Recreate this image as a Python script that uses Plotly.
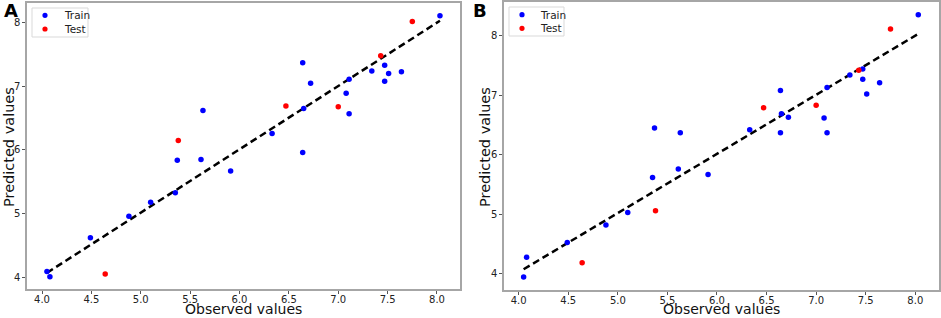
import plotly.graph_objects as go

# ---- data ----
train_obs = [4.05, 4.08, 4.49, 4.88, 5.10, 5.35, 5.37, 5.61, 5.63, 5.91, 6.33, 6.64,
             6.64, 6.65, 6.72, 7.08, 7.11, 7.11, 7.34, 7.47, 7.47, 7.51, 7.64, 8.03]
train_pred_A = [4.09, 4.01, 4.62, 4.96, 5.18, 5.33, 5.84, 5.85, 6.62, 5.67, 6.26, 7.37,
                5.96, 6.65, 7.05, 6.89, 6.57, 7.11, 7.24, 7.33, 7.08, 7.20, 7.23, 8.11]
train_pred_B = [3.95, 4.28, 4.53, 4.82, 5.03, 5.62, 6.45, 5.76, 6.37, 5.67, 6.42, 7.08,
                6.37, 6.69, 6.63, 6.62, 6.37, 7.13, 7.34, 7.44, 7.27, 7.02, 7.21, 8.35]
test_obs = [4.64, 5.38, 6.47, 7.00, 7.43, 7.75]
test_pred_A = [4.05, 6.15, 6.69, 6.68, 7.48, 8.02]
test_pred_B = [4.19, 5.06, 6.79, 6.83, 7.42, 8.11]
line_A_x = [4.05, 8.03]
line_A_y = [4.07, 8.03]
line_B_x = [4.05, 8.03]
line_B_y = [4.08, 8.03]
x_ticks = [4.0, 4.5, 5.0, 5.5, 6.0, 6.5, 7.0, 7.5, 8.0]
x_tick_labels = ["4.0", "4.5", "5.0", "5.5", "6.0", "6.5", "7.0", "7.5", "8.0"]
y_ticks = [4, 5, 6, 7, 8]
y_tick_labels = ["4", "5", "6", "7", "8"]
panel_labels = ["A", "B"]
series_names = ["Train", "Test"]
series_colors = ["#0000ff", "#ff0000"]

W, H = 941, 318
FONT = "DejaVu Sans"


def px(v):
    return v / W


def py(v):
    return 1 - v / H


fig = go.Figure()

panels = [
    dict(xa="x", ya="y", tp=train_pred_A, sp=test_pred_A, lx=line_A_x, ly=line_A_y),
    dict(xa="x2", ya="y2", tp=train_pred_B, sp=test_pred_B, lx=line_B_x, ly=line_B_y),
]
for p in panels:
    fig.add_trace(go.Scatter(x=p["lx"], y=p["ly"], mode="lines", xaxis=p["xa"], yaxis=p["ya"],
                             line=dict(color="black", width=2.5, dash="7px,4px"),
                             showlegend=False, hoverinfo="skip"))
    fig.add_trace(go.Scatter(x=train_obs, y=p["tp"], mode="markers", name=series_names[0],
                             xaxis=p["xa"], yaxis=p["ya"], showlegend=False,
                             marker=dict(color=series_colors[0], size=5.5)))
    fig.add_trace(go.Scatter(x=test_obs, y=p["sp"], mode="markers", name=series_names[1],
                             xaxis=p["xa"], yaxis=p["ya"], showlegend=False,
                             marker=dict(color=series_colors[1], size=5.5)))

axis_common = dict(showline=True, mirror=True, linecolor="#a6a6a6", linewidth=1.5,
                   showgrid=False, zeroline=False, ticks="outside", ticklen=3,
                   tickcolor="#555555", tickwidth=1, automargin=False,
                   tickfont=dict(family=FONT, size=10, color="#222222"))
xaxis_extra = dict(ticklabelstandoff=-3)

shapes = []
annotations = []

# legends (one per panel), panel letters and axis titles
legend_boxes = [(32, 8, 88, 37, 45, 62, [15.3, 29.0]), (509, 7, 564, 36, 522, 538, [14.7, 28.3])]
for (x0, y0, x1, y1, mx, tx, rows) in legend_boxes:
    shapes.append(dict(type="rect", xref="paper", yref="paper", x0=px(x0), x1=px(x1),
                       y0=py(y1), y1=py(y0), line=dict(color="#d9d9d9", width=1),
                       fillcolor="white", layer="above"))
    for name, col, ry in zip(series_names, series_colors, rows):
        shapes.append(dict(type="circle", xref="paper", yref="paper",
                           x0=px(mx - 2.6), x1=px(mx + 2.6), y0=py(ry + 2.6), y1=py(ry - 2.6),
                           fillcolor=col, line=dict(width=0), layer="above"))
        annotations.append(dict(text=name, x=px(tx), y=py(ry), xref="paper", yref="paper",
                                xanchor="left", yanchor="middle", showarrow=False,
                                font=dict(family=FONT, size=10.5, color="#222")))

letter_pos = [(11, 10.5), (480, 10.5)]
for lab, (lx, ly) in zip(panel_labels, letter_pos):
    annotations.append(dict(text="<b>%s</b>" % lab, x=px(lx), y=py(ly), xref="paper", yref="paper",
                            xanchor="center", yanchor="middle", showarrow=False, borderpad=0,
                            font=dict(family=FONT, size=18, color="black")))

xtitle_x = [243.5, 721]
ytitle_pos = [(9, 147), (485, 147)]
for ax in xtitle_x:
    annotations.append(dict(text="Observed values", x=px(ax), y=0, xref="paper", yref="paper",
                            xanchor="center", yanchor="bottom", showarrow=False, borderpad=0,
                            font=dict(family=FONT, size=14, color="#111")))
for (ax, ay) in ytitle_pos:
    annotations.append(dict(text="Predicted values", x=px(ax), y=py(ay), xref="paper", yref="paper",
                            xanchor="center", yanchor="middle", showarrow=False, textangle=-90,
                            font=dict(family=FONT, size=14.5, color="#111")))

fig.update_layout(
    width=W, height=H, margin=dict(l=0, r=0, t=0, b=0),
    paper_bgcolor="white", plot_bgcolor="white",
    font=dict(family=FONT),
    showlegend=False,
    xaxis=dict(domain=[px(27), px(460)], range=[3.848, 8.233], tickvals=x_ticks,
               ticktext=x_tick_labels, anchor="y", **axis_common, **xaxis_extra),
    yaxis=dict(domain=[py(289), py(3)], range=[3.816, 8.309], tickvals=y_ticks,
               ticktext=y_tick_labels, anchor="x", **axis_common),
    xaxis2=dict(domain=[px(504), px(939)], range=[3.852, 8.239], tickvals=x_ticks,
                ticktext=x_tick_labels, anchor="y2", **axis_common, **xaxis_extra),
    yaxis2=dict(domain=[py(290), py(2)], range=[3.731, 8.565], tickvals=y_ticks,
                ticktext=y_tick_labels, anchor="x2", **axis_common),
    shapes=shapes,
    annotations=annotations,
)

fig.write_html("out.html", config={"displayModeBar": False},
               post_script="document.body.style.margin='0';document.body.style.padding='0';")
